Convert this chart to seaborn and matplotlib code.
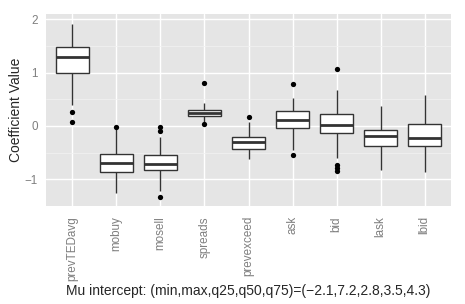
import numpy as np
import pandas as pd
import matplotlib
matplotlib.use("Agg")
import matplotlib.pyplot as plt
import seaborn as sns

# boxplot summaries
names = ['prevTEDavg', 'mobuy', 'mosell', 'spreads', 'prevexceed', 'ask', 'bid', 'lask', 'lbid']
whisk_lo = [0.39, -1.25, -1.22, 0.08, -0.61, -0.45, -0.60, -0.83, -0.86]
q25 = [1.00, -0.86, -0.83, 0.19, -0.44, -0.04, -0.14, -0.38, -0.37]
q50 = [1.30, -0.70, -0.72, 0.25, -0.30, 0.12, 0.01, -0.18, -0.22]
q75 = [1.49, -0.53, -0.55, 0.30, -0.20, 0.29, 0.23, -0.07, 0.04]
whisk_hi = [1.92, -0.04, -0.20, 0.44, 0.08, 0.53, 0.68, 0.37, 0.58]

# outlier points
out_names = ['prevTEDavg', 'prevTEDavg', 'mobuy', 'mosell', 'mosell', 'mosell',
             'spreads', 'spreads', 'prevexceed', 'ask', 'ask', 'bid', 'bid', 'bid', 'bid']
out_vals = [0.27, 0.08, -0.01, -0.02, -0.10, -1.33,
            0.81, 0.03, 0.17, 0.79, -0.55, 1.07, -0.74, -0.79, -0.84]

xlab = 'Mu intercept: (min,max,q25,q50,q75)=(\u22122.1,7.2,2.8,3.5,4.3)'

rows = []
for i, n in enumerate(names):
    for v in [whisk_lo[i], q25[i], q50[i], q75[i], whisk_hi[i]]:
        rows.append({'variable': n, 'value': v})
df = pd.DataFrame(rows)
out_df = pd.DataFrame({'variable': out_names, 'value': out_vals})

sns.set_style('white')
plt.rcParams['font.family'] = ['Liberation Sans', 'DejaVu Sans']

fig = plt.figure(figsize=(4.65, 3.04), dpi=100)
ax = fig.add_axes([46 / 465, 1 - 206 / 304, 405 / 465, 192 / 304])
ax.set_facecolor('#E5E5E5')

sns.boxplot(data=df, x='variable', y='value', order=names, ax=ax,
            color='white', linecolor='#333333', linewidth=1.0, width=0.75,
            whis=(0, 100), showfliers=False, showcaps=False,
            medianprops={'linewidth': 2.0, 'color': '#333333'})
sns.stripplot(data=out_df, x='variable', y='value', order=names, ax=ax,
              jitter=False, color='black', size=3.8, linewidth=0)

ax.set_xlim(-0.6, len(names) - 0.4)
ax.set_ylim(-1.48, 2.1)
ax.set_yticks([-1, 0, 1, 2])
ax.set_yticklabels(['\u22121', '0', '1', '2'])
ax.set_yticks([-1.5, -0.5, 0.5, 1.5], minor=True)
ax.set_axisbelow(True)
ax.grid(which='major', color='white', linewidth=1.0)
ax.grid(which='minor', axis='y', color='#F2F2F2', linewidth=0.5)
for s in ax.spines.values():
    s.set_visible(False)
ax.tick_params(which='major', length=3.2, width=0.6, color='#7F7F7F',
               labelcolor='#7F7F7F', labelsize=8.4)
ax.tick_params(axis='y', pad=2.5)
ax.tick_params(axis='x', pad=4, labelrotation=90)
ax.tick_params(which='minor', length=0)
ax.set_ylabel('Coefficient Value', fontsize=10, labelpad=1.5)
ax.set_xlabel(xlab, fontsize=10, labelpad=2)

fig.savefig('out.png', dpi=100)
